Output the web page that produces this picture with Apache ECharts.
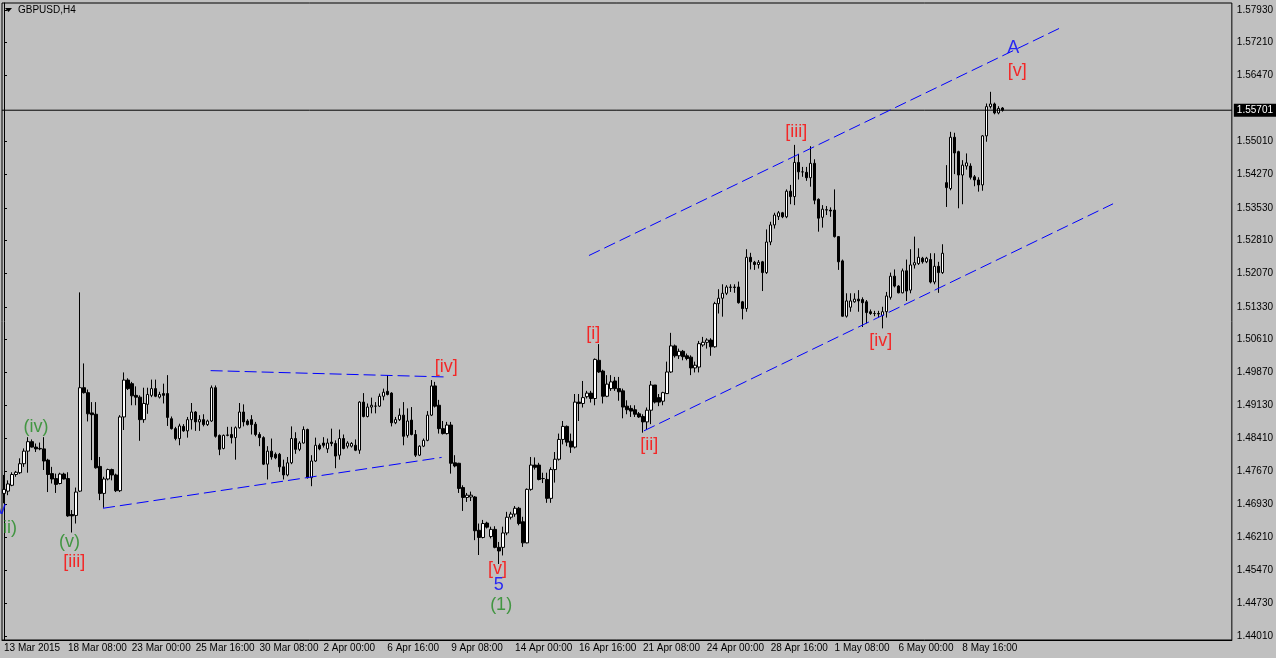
<!DOCTYPE html>
<html>
<head>
<meta charset="utf-8">
<title>GBPUSD,H4</title>
<script src="https://cdn.jsdelivr.net/npm/echarts@6/dist/echarts.min.js"></script>
<style>
  html, body { margin: 0; padding: 0; background: #c0c0c0; }
  #chart { width: 1276px; height: 658px; }
</style>
</head>
<body>
<div id="chart"></div>
<script>
// GBPUSD H4 bars, one row per 4 hours: [open, close, low, high]
var mar13 = [
  [1.4718,1.4727,1.4696,1.4759],[1.4723,1.4739,1.4714,1.4747]
];
var mar16 = [
  [1.4736,1.4760,1.4734,1.4765],[1.4760,1.4765,1.4755,1.4768],[1.4764,1.4784,1.4761,1.4796],
  [1.4784,1.4812,1.4777,1.4818],[1.4812,1.4833,1.4764,1.4843],[1.4833,1.4821,1.4820,1.4838],
  [1.4821,1.4817,1.4810,1.4829],[1.4817,1.4818,1.4814,1.4831],[1.4817,1.4790,1.4770,1.4843],
  [1.4792,1.4760,1.4721,1.4795],[1.4762,1.4750,1.4740,1.4777],[1.4751,1.4738,1.4719,1.4762],
  [1.4740,1.4761,1.4738,1.4764],[1.4761,1.4750,1.4749,1.4764],[1.4751,1.4668,1.4666,1.4765],
  [1.4671,1.4668,1.4631,1.4681],[1.4669,1.4721,1.4651,1.4731],[1.4723,1.4953,1.4721,1.5165],
  [1.4953,1.4942,1.4940,1.5007],[1.4942,1.4895,1.4878,1.4949],[1.4897,1.4893,1.4792,1.4921],
  [1.4894,1.4775,1.4773,1.4921],[1.4778,1.4718,1.4703,1.4799],[1.4718,1.4750,1.4686,1.4755],
  [1.4750,1.4771,1.4747,1.4773],[1.4771,1.4759,1.4747,1.4773],[1.4759,1.4724,1.4721,1.4762],
  [1.4724,1.4888,1.4721,1.4892],[1.4888,1.4970,1.4859,1.4987],[1.4970,1.4951,1.4948,1.4974]
];
var mar23 = [
  [1.4962,1.4935,1.4914,1.4966],[1.4936,1.4932,1.4914,1.4956],[1.4932,1.4882,1.4835,1.4936],
  [1.4882,1.4918,1.4875,1.4953],[1.4916,1.4938,1.4895,1.4953],[1.4936,1.4951,1.4932,1.4971],
  [1.4951,1.4934,1.4932,1.4971],[1.4932,1.4938,1.4929,1.4944],[1.4940,1.4936,1.4918,1.4962],
  [1.4940,1.4887,1.4868,1.4981],[1.4884,1.4862,1.4860,1.4889],[1.4862,1.4840,1.4836,1.4866],
  [1.4840,1.4868,1.4825,1.4873],[1.4867,1.4857,1.4855,1.4872],[1.4857,1.4882,1.4842,1.4888],
  [1.4882,1.4899,1.4860,1.4919],[1.4899,1.4877,1.4857,1.4901],[1.4877,1.4882,1.4857,1.4892],
  [1.4882,1.4871,1.4867,1.4894],[1.4871,1.4879,1.4868,1.4882],[1.4879,1.4953,1.4877,1.4958],
  [1.4953,1.4845,1.4842,1.4958],[1.4847,1.4816,1.4803,1.4849],[1.4818,1.4847,1.4816,1.4849],
  [1.4847,1.4848,1.4845,1.4866],[1.4849,1.4842,1.4829,1.4866],[1.4842,1.4864,1.4793,1.4867],
  [1.4864,1.4899,1.4862,1.4919],[1.4899,1.4877,1.4867,1.4916],[1.4879,1.4871,1.4869,1.4883]
];
var mar30 = [
  [1.4882,1.4871,1.4849,1.4892],[1.4872,1.4849,1.4845,1.4877],[1.4849,1.4842,1.4823,1.4854],
  [1.4842,1.4783,1.4781,1.4845],[1.4783,1.4812,1.4749,1.4823],[1.4812,1.4799,1.4793,1.4840],
  [1.4805,1.4797,1.4794,1.4809],[1.4805,1.4777,1.4766,1.4808],[1.4777,1.4759,1.4749,1.4793],
  [1.4759,1.4786,1.4756,1.4799],[1.4786,1.4840,1.4783,1.4867],[1.4840,1.4816,1.4806,1.4854],
  [1.4816,1.4830,1.4812,1.4834],[1.4830,1.4860,1.4829,1.4867],[1.4860,1.4753,1.4751,1.4862],
  [1.4753,1.4790,1.4734,1.4803],[1.4790,1.4825,1.4788,1.4842],[1.4825,1.4817,1.4814,1.4829],
  [1.4830,1.4825,1.4820,1.4843],[1.4817,1.4830,1.4808,1.4840],[1.4832,1.4829,1.4823,1.4862],
  [1.4829,1.4801,1.4774,1.4836],[1.4803,1.4840,1.4793,1.4860],[1.4840,1.4818,1.4816,1.4849],
  [1.4823,1.4830,1.4818,1.4834],[1.4823,1.4829,1.4820,1.4832],[1.4825,1.4814,1.4812,1.4838],
  [1.4814,1.4921,1.4806,1.4923],[1.4921,1.4889,1.4887,1.4941],[1.4889,1.4910,1.4887,1.4918]
];
var apr06 = [
  [1.4910,1.4914,1.4896,1.4931],[1.4912,1.4912,1.4896,1.4921],[1.4912,1.4934,1.4910,1.4940],
  [1.4934,1.4943,1.4925,1.4951],[1.4945,1.4938,1.4936,1.4981],[1.4941,1.4875,1.4867,1.4943],
  [1.4875,1.4882,1.4872,1.4888],[1.4882,1.4892,1.4879,1.4907],[1.4892,1.4845,1.4825,1.4921],
  [1.4847,1.4879,1.4842,1.4907],[1.4881,1.4849,1.4847,1.4910],[1.4849,1.4803,1.4799,1.4859],
  [1.4803,1.4823,1.4801,1.4825],[1.4823,1.4836,1.4821,1.4840],[1.4836,1.4892,1.4834,1.4901],
  [1.4892,1.4957,1.4890,1.4970],[1.4957,1.4912,1.4909,1.4966],[1.4914,1.4862,1.4851,1.4926],
  [1.4862,1.4851,1.4849,1.4879],[1.4851,1.4870,1.4849,1.4877],[1.4870,1.4785,1.4762,1.4877],
  [1.4786,1.4779,1.4776,1.4803],[1.4785,1.4729,1.4719,1.4786],[1.4731,1.4709,1.4679,1.4736],
  [1.4709,1.4714,1.4699,1.4719],[1.4710,1.4714,1.4701,1.4722],[1.4710,1.4635,1.4614,1.4712],
  [1.4636,1.4620,1.4581,1.4651],[1.4620,1.4651,1.4618,1.4659],[1.4652,1.4643,1.4640,1.4655]
];
var apr13 = [
  [1.4622,1.4638,1.4618,1.4644],[1.4638,1.4598,1.4596,1.4645],[1.4598,1.4590,1.4561,1.4610],
  [1.4598,1.4630,1.4580,1.4644],[1.4630,1.4665,1.4625,1.4677],[1.4665,1.4672,1.4660,1.4677],
  [1.4672,1.4685,1.4666,1.4690],[1.4685,1.4651,1.4647,1.4688],[1.4655,1.4608,1.4599,1.4666],
  [1.4608,1.4727,1.4607,1.4729],[1.4727,1.4781,1.4724,1.4799],[1.4781,1.4776,1.4771,1.4798],
  [1.4781,1.4749,1.4747,1.4786],[1.4751,1.4751,1.4741,1.4764],[1.4749,1.4707,1.4697,1.4764],
  [1.4707,1.4771,1.4697,1.4776],[1.4771,1.4794,1.4742,1.4810],[1.4794,1.4838,1.4791,1.4851],
  [1.4838,1.4867,1.4827,1.4879],[1.4867,1.4832,1.4823,1.4869],[1.4834,1.4821,1.4808,1.4851],
  [1.4821,1.4921,1.4818,1.4939],[1.4921,1.4918,1.4879,1.4939],[1.4918,1.4931,1.4909,1.4968],
  [1.4933,1.4941,1.4929,1.4946],[1.4941,1.4929,1.4920,1.4946],[1.4929,1.5016,1.4914,1.5018],
  [1.5014,1.4988,1.4986,1.5050],[1.4990,1.4934,1.4918,1.4993],[1.4934,1.4961,1.4932,1.4981]
];
var apr20 = [
  [1.4951,1.4966,1.4946,1.4981],[1.4968,1.4951,1.4946,1.4977],[1.4951,1.4944,1.4924,1.4977],
  [1.4946,1.4910,1.4885,1.4951],[1.4912,1.4904,1.4894,1.4925],[1.4907,1.4901,1.4888,1.4914],
  [1.4904,1.4894,1.4888,1.4914],[1.4895,1.4888,1.4886,1.4899],[1.4889,1.4877,1.4853,1.4894],
  [1.4877,1.4903,1.4860,1.4909],[1.4903,1.4959,1.4872,1.4968],[1.4959,1.4921,1.4918,1.4959],
  [1.4931,1.4921,1.4912,1.4939],[1.4923,1.4942,1.4914,1.4944],[1.4940,1.4988,1.4939,1.5011],
  [1.4988,1.5046,1.4986,1.5075],[1.5046,1.5024,1.5020,1.5049],[1.5024,1.5034,1.5017,1.5040],
  [1.5034,1.5022,1.5014,1.5037],[1.5024,1.5018,1.5014,1.5029],[1.5021,1.4997,1.4981,1.5025],
  [1.4997,1.5003,1.4987,1.5011],[1.4999,1.5051,1.4987,1.5057],[1.5048,1.5054,1.5044,1.5066],
  [1.5054,1.5059,1.5040,1.5063],[1.5059,1.5044,1.5024,1.5063],[1.5044,1.5140,1.5042,1.5144],
  [1.5140,1.5152,1.5118,1.5172],[1.5152,1.5163,1.5111,1.5183],[1.5163,1.5177,1.5159,1.5181]
];
var apr27 = [
  [1.5176,1.5177,1.5166,1.5183],[1.5177,1.5176,1.5164,1.5183],[1.5177,1.5142,1.5140,1.5189],
  [1.5144,1.5129,1.5105,1.5146],[1.5129,1.5243,1.5122,1.5261],[1.5243,1.5233,1.5216,1.5253],
  [1.5232,1.5227,1.5215,1.5235],[1.5227,1.5232,1.5218,1.5237],[1.5233,1.5209,1.5168,1.5235],
  [1.5209,1.5277,1.5206,1.5305],[1.5277,1.5315,1.5270,1.5322],[1.5315,1.5337,1.5307,1.5342],
  [1.5334,1.5342,1.5326,1.5346],[1.5342,1.5333,1.5330,1.5344],[1.5333,1.5390,1.5330,1.5394],
  [1.5390,1.5378,1.5361,1.5404],[1.5378,1.5454,1.5359,1.5493],[1.5454,1.5433,1.5416,1.5473],
  [1.5433,1.5433,1.5422,1.5444],[1.5432,1.5420,1.5413,1.5444],[1.5420,1.5452,1.5400,1.5490],
  [1.5452,1.5370,1.5361,1.5461],[1.5372,1.5330,1.5300,1.5374],[1.5332,1.5350,1.5309,1.5359],
  [1.5348,1.5349,1.5337,1.5357],[1.5348,1.5346,1.5333,1.5354],[1.5348,1.5289,1.5287,1.5394],
  [1.5289,1.5233,1.5215,1.5290],[1.5235,1.5112,1.5111,1.5238],[1.5112,1.5146,1.5109,1.5163]
];
var may04 = [
  [1.5132,1.5146,1.5122,1.5163],[1.5144,1.5150,1.5142,1.5163],[1.5150,1.5146,1.5122,1.5170],
  [1.5149,1.5142,1.5088,1.5154],[1.5144,1.5120,1.5096,1.5148],[1.5122,1.5118,1.5115,1.5127],
  [1.5118,1.5118,1.5112,1.5124],[1.5118,1.5117,1.5109,1.5124],[1.5114,1.5122,1.5085,1.5133],
  [1.5122,1.5157,1.5109,1.5166],[1.5154,1.5201,1.5149,1.5209],[1.5201,1.5179,1.5176,1.5216],
  [1.5179,1.5164,1.5163,1.5181],[1.5164,1.5213,1.5163,1.5218],[1.5213,1.5168,1.5146,1.5238],
  [1.5170,1.5226,1.5163,1.5261],[1.5226,1.5231,1.5218,1.5289],[1.5229,1.5243,1.5226,1.5263],
  [1.5241,1.5233,1.5229,1.5244],[1.5233,1.5241,1.5230,1.5244],[1.5238,1.5188,1.5185,1.5252],
  [1.5188,1.5223,1.5183,1.5252],[1.5223,1.5209,1.5164,1.5233],[1.5209,1.5252,1.5206,1.5272],
  [1.5409,1.5398,1.5355,1.5448],[1.5396,1.5510,1.5392,1.5522],[1.5510,1.5475,1.5428,1.5520],
  [1.5478,1.5426,1.5352,1.5480],[1.5426,1.5448,1.5361,1.5459],[1.5446,1.5453,1.5438,1.5474]
];
var may11 = [
  [1.5446,1.5421,1.5416,1.5452],[1.5422,1.5415,1.5401,1.5426],[1.5415,1.5404,1.5389,1.5421],
  [1.5404,1.5513,1.5391,1.5515],[1.5513,1.5578,1.5500,1.5585],[1.5578,1.5584,1.5574,1.5611],
  [1.5584,1.5564,1.5561,1.5587],[1.5564,1.5574,1.5561,1.5579],[1.5575,1.5570,1.5567,1.5577]
];

var timeLabels = ['13 Mar 2015', '18 Mar 08:00', '23 Mar 00:00', '25 Mar 16:00', '30 Mar 08:00',
  '2 Apr 00:00', '6 Apr 16:00', '9 Apr 08:00', '14 Apr 00:00', '16 Apr 16:00', '21 Apr 08:00',
  '24 Apr 00:00', '28 Apr 16:00', '1 May 08:00', '6 May 00:00', '8 May 16:00'];
var priceTicks = [1.44010, 1.44730, 1.45470, 1.46210, 1.46930, 1.47670, 1.48410, 1.49130, 1.49870,
  1.50610, 1.51330, 1.52070, 1.52810, 1.53530, 1.54270, 1.55010, 1.56470, 1.57210, 1.57930];
var lastPrice = 1.55701;

// trend lines: [bar, price] -> [bar, price]
var channelTop = [[146.5, 1.5247], [264.5, 1.5753]];
var channelBottom = [[160.25, 1.4857], [277.75, 1.5362]];
var triangleTop = [[51.75, 1.4991], [110.25, 1.4977]];
var triangleBottom = [[24.8, 1.4685], [109.6, 1.4798]];

// wave counts: [bar, price, text]
var redWaves = [[17.6, 1.4565, '[iii]'], [110.75, 1.4998, '[iv]'], [123.6, 1.4550, '[v]'],
  [147.6, 1.5073, '[i]'], [161.6, 1.4825, '[ii]'], [198.4, 1.5522, '[iii]'],
  [219.6, 1.5057, '[iv]'], [253.75, 1.5657, '[v]']];
var greenWaves = [[1.5, 1.4640, 'ii)'], [8.0, 1.4866, '(iv)'], [16.4, 1.4610, '(v)'], [124.5, 1.4470, '(1)']];
var blueWaves = [[-0.6, 1.4683, 'v'], [123.9, 1.4514, '5'], [252.75, 1.5708, 'A']];

var ohlc = [].concat(mar13, mar16, mar23, mar30, apr06, apr13, apr20, apr27, may04, may11);
var totalSlots = 308;
var cats = [];
for (var i = 0; i < totalSlots; i++) cats.push(String(i));
var everyLabel = function (i) { return i % 16 === 0 && i / 16 < timeLabels.length; };

function trendSeries(pts) {
  return {
    type: 'line', xAxisIndex: 1, data: pts, symbol: 'none', silent: true,
    lineStyle: { color: '#0000ff', width: 1, type: [12, 5] }, z: 5
  };
}
function textSeries(items, color) {
  return {
    type: 'scatter', xAxisIndex: 1, data: items, symbolSize: 1, silent: true, clip: false,
    itemStyle: { color: 'rgba(0,0,0,0)' },
    label: {
      show: true, position: 'inside', color: color, fontSize: 18,
      fontFamily: 'Liberation Sans, Arial, sans-serif',
      formatter: function (p) { return p.value[2]; }
    }, z: 6
  };
}

var myChart = echarts.init(document.getElementById('chart'));
var option = {
  animation: false,
  backgroundColor: '#c0c0c0',
  textStyle: { fontFamily: 'Liberation Sans, Arial, sans-serif' },
  grid: { left: 2, right: 43, top: 3, bottom: 18, show: true, borderColor: '#000', borderWidth: 1, backgroundColor: '#c0c0c0' },
  graphic: [
    { type: 'polygon', shape: { points: [[5, 8], [12, 8], [8.5, 12]] }, style: { fill: '#000' } },
    { type: 'text', left: 18, top: 5, style: { text: 'GBPUSD,H4', fill: '#000', font: '10px "Liberation Sans", Arial' } }
  ],
  xAxis: [{
    type: 'category', data: cats, boundaryGap: true,
    axisLine: { lineStyle: { color: '#000' } },
    axisTick: { alignWithLabel: true, interval: everyLabel, length: 4, lineStyle: { color: '#000' } },
    axisLabel: {
      interval: everyLabel, align: 'left', color: '#000', fontSize: 10, margin: 3,
      formatter: function (v, idx) { return timeLabels[idx / 16]; }
    },
    splitLine: { show: false }
  }, {
    type: 'value', min: -0.5, max: totalSlots - 0.5, show: false
  }],
  yAxis: {
    type: 'value', position: 'right', min: 1.43920, max: 1.58085,
    splitLine: { show: false },
    axisLine: { show: true, lineStyle: { color: '#000' } },
    axisTick: { show: true, customValues: priceTicks, length: 3, lineStyle: { color: '#000' } },
    axisLabel: {
      customValues: priceTicks, color: '#000', fontSize: 10, margin: 5,
      formatter: function (v) { return v.toFixed(5); }
    }
  },
  series: [
    {
      type: 'candlestick', data: ohlc, barWidth: 3,
      itemStyle: { color: '#fff', color0: '#000', borderColor: '#000', borderColor0: '#000', borderWidth: 1 },
      z: 3
    },
    {
      // bid line with its price tag on the axis
      type: 'line', xAxisIndex: 1, silent: true, symbol: 'none', clip: false,
      data: [[-0.5, lastPrice], [totalSlots - 0.5, lastPrice]],
      lineStyle: { color: '#000', width: 1 },
      endLabel: {
        show: true, distance: 2, formatter: lastPrice.toFixed(5), color: '#fff',
        backgroundColor: '#000', padding: [2, 3, 1, 3], fontSize: 10
      },
      z: 4
    },
    trendSeries(channelTop),
    trendSeries(channelBottom),
    trendSeries(triangleTop),
    trendSeries(triangleBottom),
    textSeries(redWaves, '#ff0000'),
    textSeries(greenWaves, '#228b22'),
    textSeries(blueWaves, '#0000ff')
  ]
};
myChart.setOption(option);
</script>
</body>
</html>
